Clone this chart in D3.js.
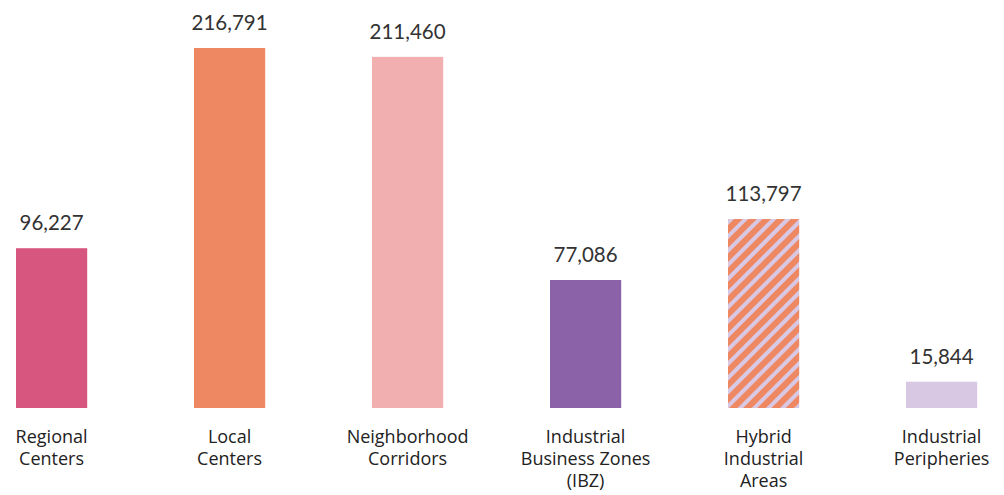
<!DOCTYPE html>
<html><head><meta charset="utf-8">
<script src="https://cdn.jsdelivr.net/npm/d3@7"></script>
<style>body{margin:0;background:#fff}svg{display:block}</style>
</head><body><svg id="c" width="1004" height="495"></svg>
<script>
const categories = [["Regional","Centers"],["Local","Centers"],["Neighborhood","Corridors"],["Industrial","Business Zones","(IBZ)"],["Hybrid","Industrial","Areas"],["Industrial","Peripheries"]];
const values = [96227, 216791, 211460, 77086, 113797, 15844];
const colors = ["#D7567F","#EE8862","#F2AFB0","#8B62A8","url(#hatch)","#D9C8E3"];

const svg = d3.select("#c");
const defs = svg.append("defs");
const pat = defs.append("pattern").attr("id","hatch").attr("patternUnits","userSpaceOnUse")
  .attr("width",10).attr("height",10).attr("patternTransform","rotate(45)");
pat.append("rect").attr("width",10).attr("height",10).attr("fill","#EE8862");
pat.append("rect").attr("width",4).attr("height",10).attr("fill","#D9C8E3");

const idx = d3.range(values.length);
const x = d3.scaleBand().domain(idx).range([16, 16 + 178*5.4]).paddingInner(0.6).paddingOuter(0);
const y = d3.scaleLinear().domain([0, 216791]).range([408, 48]);

svg.selectAll("rect.bar").data(idx).join("rect").attr("class","bar")
  .attr("x", i => x(i)).attr("width", x.bandwidth())
  .attr("y", i => y(values[i])).attr("height", i => y(0) - y(values[i]))
  .attr("fill", i => colors[i]);

svg.selectAll("text.val").data(idx).join("text").attr("class","val")
  .attr("x", i => x(i) + x.bandwidth()/2).attr("y", i => y(values[i]) - 18)
  .attr("text-anchor","middle").attr("font-family","Lato, sans-serif").attr("font-size",20.5)
  .attr("fill","#333").text(i => d3.format(",")(values[i]));

const lab = svg.selectAll("text.cat").data(idx).join("text").attr("class","cat")
  .attr("text-anchor","middle").attr("font-family","'Open Sans', sans-serif").attr("font-size",18).attr("fill","#222");
lab.each(function(i){
  const t = d3.select(this);
  categories[i].forEach((line, k) => {
    t.append("tspan").attr("x", x(i) + x.bandwidth()/2).attr("y", 443 + k*22).text(line);
  });
});
</script></body></html>
